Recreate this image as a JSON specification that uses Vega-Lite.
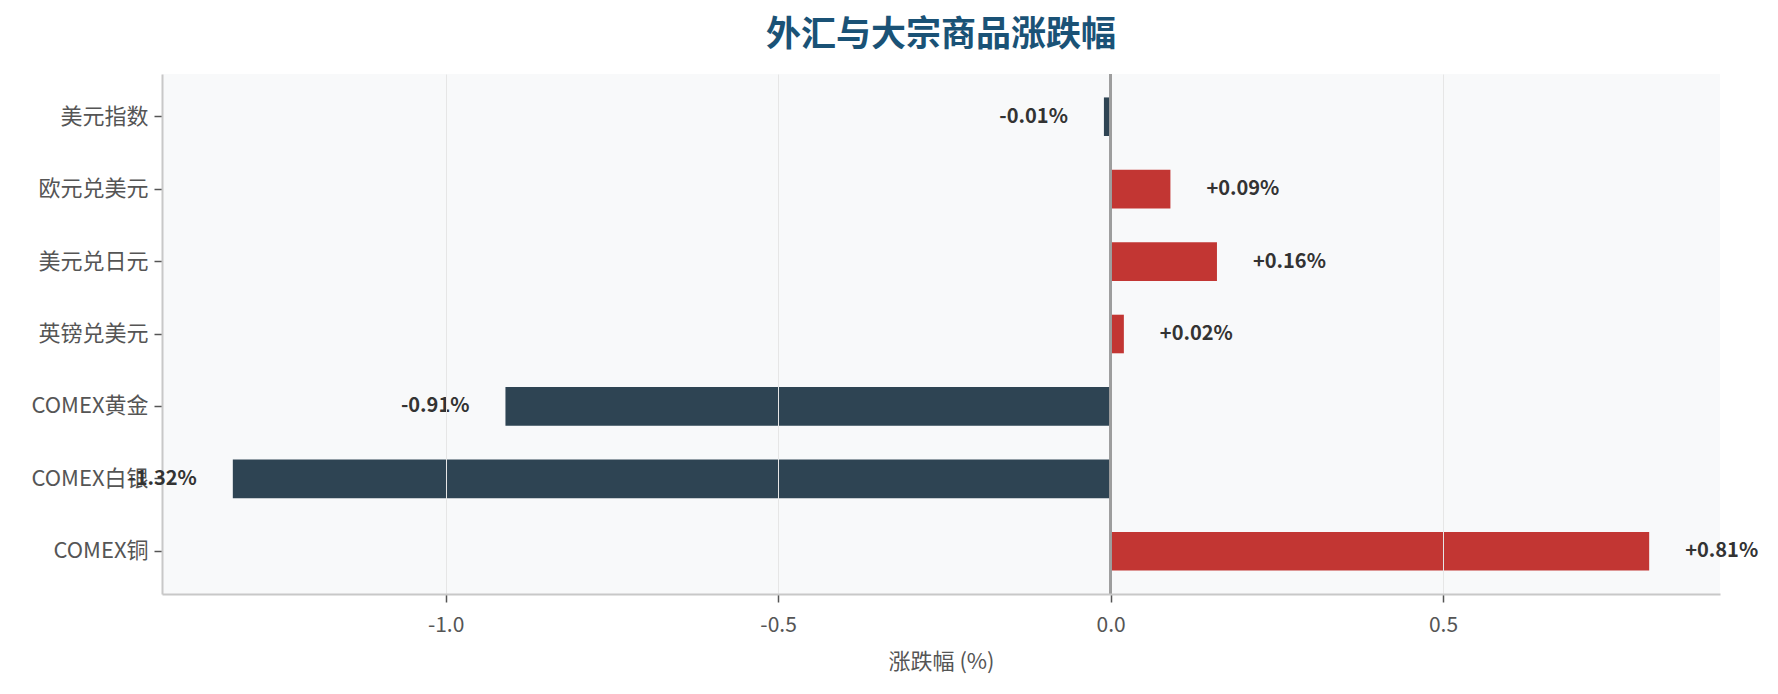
{
  "$schema": "https://vega.github.io/schema/vega-lite/v6.json",
  "width": 1558,
  "height": 520,
  "autosize": {"type": "none"},
  "padding": {"left": 162, "top": 74, "right": 58, "bottom": 100},
  "background": "white",
  "title": {
    "text": "外汇与大宗商品涨跌幅",
    "font": "Noto Sans CJK SC",
    "fontSize": 35,
    "fontWeight": "bold",
    "color": "#1a5276",
    "anchor": "middle",
    "offset": 20
  },
  "config": {
    "view": {"fill": "#f8f9fa", "stroke": null},
    "font": "Noto Sans CJK SC"
  },
  "data": {
    "values": [
      {"name": "美元指数", "change": -0.01, "label": "-0.01%"},
      {"name": "欧元兑美元", "change": 0.09, "label": "+0.09%"},
      {"name": "美元兑日元", "change": 0.16, "label": "+0.16%"},
      {"name": "英镑兑美元", "change": 0.02, "label": "+0.02%"},
      {"name": "COMEX黄金", "change": -0.91, "label": "-0.91%"},
      {"name": "COMEX白银", "change": -1.32, "label": "-1.32%"},
      {"name": "COMEX铜", "change": 0.81, "label": "+0.81%"}
    ]
  },
  "layer": [
    {
      "mark": {"type": "bar"},
      "encoding": {
        "y": {
          "field": "name",
          "type": "nominal",
          "sort": null,
          "scale": {"paddingInner": 0.467, "paddingOuter": 0.3235},
          "axis": {
            "title": null,
            "labelFontSize": 22,
            "labelColor": "#555555",
            "labelPadding": 6,
            "tickColor": "#555555",
            "tickSize": 8,
            "tickWidth": 1.5,
            "domainColor": "#c8c8c8",
            "domainWidth": 2,
            "grid": false
          }
        },
        "x": {
          "field": "change",
          "type": "quantitative",
          "scale": {"domain": [-1.4265, 0.9165], "nice": false, "zero": false},
          "axis": {
            "values": [-1, -0.5, 0, 0.5],
            "format": ".1f",
            "labelExpr": "replace(datum.label, '−', '-')",
            "title": "涨跌幅 (%)",
            "titleFontSize": 22,
            "titleFontWeight": "normal",
            "titleColor": "#555555",
            "titlePadding": 16,
            "labelFontSize": 21,
            "labelColor": "#555555",
            "labelPadding": 12,
            "tickColor": "#555555",
            "tickSize": 8,
            "tickWidth": 1.5,
            "domainColor": "#c8c8c8",
            "domainWidth": 2,
            "grid": true,
            "gridColor": "#e6e6e6",
            "gridWidth": 1,
            "gridOpacity": {"condition": {"test": "datum.value === 0", "value": 0}, "value": 1},
            "zindex": 1
          }
        },
        "color": {
          "condition": {"test": "datum.change < 0", "value": "#2e4453"},
          "value": "#c23633"
        }
      }
    },
    {
      "mark": {"type": "rule", "color": "#9e9e9e", "strokeWidth": 2},
      "encoding": {"x": {"datum": 0}}
    },
    {
      "transform": [{"filter": "datum.change >= 0"}],
      "mark": {"type": "text", "align": "left", "baseline": "middle", "dx": 36, "fontSize": 20, "fontWeight": "bold", "color": "#333333"},
      "encoding": {
        "y": {"field": "name", "type": "nominal", "sort": null},
        "x": {"field": "change", "type": "quantitative"},
        "text": {"field": "label"}
      }
    },
    {
      "transform": [{"filter": "datum.change < 0"}],
      "mark": {"type": "text", "align": "right", "baseline": "middle", "dx": -36, "fontSize": 20, "fontWeight": "bold", "color": "#333333"},
      "encoding": {
        "y": {"field": "name", "type": "nominal", "sort": null},
        "x": {"field": "change", "type": "quantitative"},
        "text": {"field": "label"}
      }
    }
  ]
}
